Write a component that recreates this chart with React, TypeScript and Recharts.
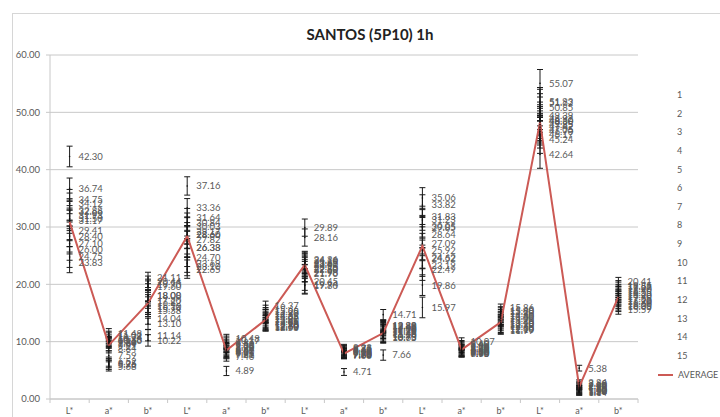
import React from "react";
import { ComposedChart, Line, XAxis, YAxis, CartesianGrid, ErrorBar, LabelList } from "recharts";

const categories = ["L*", "a*", "b*", "L*", "a*", "b*", "L*", "a*", "b*", "L*", "a*", "b*", "L*", "a*", "b*"];
const seriesNames = ["1", "2", "3", "4", "5", "6", "7", "8", "9", "10", "11", "12", "13", "14", "15"];
const yTicks = [0, 10, 20, 30, 40, 50, 60];

// one array per category position, one value per series (1..15)
const lStar1 = [42.3, 36.74, 34.75, 34.12, 32.88, 32.66, 31.93, 31.5, 31.17, 29.41, 28.4, 27.1, 26.0, 24.75, 23.83];
const aStar1 = [11.48, 11.02, 10.74, 10.38, 10.1, 9.96, 9.8, 9.64, 9.21, 8.84, 7.59, 6.52, 6.25, 5.96, 5.68];
const bStar1 = [21.11, 20.44, 19.9, 19.6, 18.08, 18.0, 17.2, 16.82, 16.1, 15.74, 15.38, 14.04, 13.1, 11.14, 10.22];
const lStar2 = [37.16, 33.36, 31.64, 30.84, 30.03, 29.17, 28.66, 28.6, 27.82, 26.38, 26.33, 24.7, 23.69, 22.65, 23.1];
const aStar2 = [10.48, 10.17, 9.86, 9.52, 9.3, 9.05, 8.9, 8.64, 8.42, 8.2, 8.01, 7.95, 7.81, 7.4, 4.89];
const bStar2 = [16.37, 15.66, 15.25, 14.9, 14.62, 14.35, 14.02, 13.8, 13.45, 13.2, 12.98, 12.8, 12.7, 12.6, 12.53];
const lStar3 = [29.89, 28.16, 24.26, 24.1, 23.85, 23.62, 23.4, 23.15, 22.8, 22.5, 21.98, 21.9, 20.45, 19.94, 19.8];
const aStar3 = [8.93, 8.75, 8.6, 8.42, 8.3, 8.21, 8.1, 7.98, 7.9, 7.82, 7.75, 7.7, 7.66, 7.6, 4.71];
const bStar3 = [14.71, 12.88, 12.8, 12.62, 12.45, 12.3, 12.1, 11.95, 11.7, 11.45, 11.2, 10.9, 10.75, 10.63, 7.66];
const lStar4 = [35.06, 33.82, 31.83, 31.23, 30.05, 29.85, 28.64, 27.09, 25.92, 24.62, 24.52, 23.19, 22.49, 19.86, 15.97];
const aStar4 = [10.07, 9.6, 9.4, 9.2, 9.0, 8.85, 8.7, 8.6, 8.45, 8.3, 8.2, 8.1, 8.0, 7.95, 7.9];
const bStar4 = [15.86, 15.4, 15.2, 14.9, 14.6, 14.3, 14.0, 13.7, 13.4, 13.1, 12.9, 12.6, 12.3, 12.1, 11.99];
const lStar5 = [55.07, 51.93, 51.62, 50.85, 49.39, 48.92, 48.6, 48.3, 47.85, 47.42, 47.05, 46.7, 46.17, 45.24, 42.64];
const aStar5 = [5.38, 2.84, 2.6, 2.4, 2.25, 2.1, 1.95, 1.85, 1.7, 1.6, 1.5, 1.42, 1.3, 1.2, 1.14];
const bStar5 = [20.41, 19.85, 19.59, 19.2, 18.9, 18.55, 18.2, 17.9, 17.55, 17.2, 16.9, 16.6, 16.3, 16.05, 15.59];

const average = [30.9, 9.4, 16.7, 28.4, 8.5, 13.8, 23.4, 7.9, 11.5, 26.7, 8.6, 13.4, 48.3, 2.1, 17.8];
const errors = [1.8, 0.8, 1.0, 1.6, 0.8, 0.7, 1.5, 0.6, 0.9, 1.8, 0.6, 0.7, 2.4, 0.5, 0.8];

const clusters = [lStar1, aStar1, bStar1, lStar2, aStar2, bStar2, lStar3, aStar3, bStar3, lStar4, aStar4, bStar4, lStar5, aStar5, bStar5];

const data = categories.map((cat, i) => {
  const row: Record<string, number | string> = { idx: i, cat, avg: average[i], err: errors[i] };
  clusters[i].forEach((v, j) => {
    row[`s${j}`] = v;
  });
  return row;
});

const FONT = "Lato, 'Open Sans', sans-serif";
const RED = "#cc5a55";
const GRID = "#c8c8c8";
const BAND_HALF = 588 / 15 / 2;

const XTick = (props: any) => {
  const { x, y, payload, index } = props;
  return (
    <g>
      <line x1={x - BAND_HALF} x2={x - BAND_HALF} y1={y - 8} y2={y - 4} stroke={GRID} />
      {index === categories.length - 1 && (
        <line x1={x + BAND_HALF} x2={x + BAND_HALF} y1={y - 8} y2={y - 4} stroke={GRID} />
      )}
      <text x={x} y={y + 7} textAnchor="middle" fontSize={9} fill="#595959" fontFamily={FONT}>
        {categories[payload.value]}
      </text>
    </g>
  );
};

export default function App() {
  return (
    <div style={{ position: "absolute", left: 0, top: 0, width: 720, height: 417, background: "#fff", overflow: "hidden" }}>
      <div style={{ position: "absolute", left: 12, top: 13, right: -2, bottom: -2, borderLeft: "1px solid #d6d6d6", borderTop: "1px solid #d6d6d6" }} />
      <div style={{ position: "absolute", left: 0, width: 740, top: 25, textAlign: "center", fontFamily: FONT, fontWeight: 700, fontSize: 15, color: "#222" }}>
        SANTOS (5P10) 1h
      </div>
      <div style={{ position: "absolute", left: 0, top: 0 }}>
        <ComposedChart width={720} height={417} data={data} margin={{ top: 55, right: 82, bottom: 0, left: 0 }}>
          <CartesianGrid vertical={false} stroke={GRID} />
          <XAxis
            dataKey="idx"
            type="category"
            scale="band"
            height={18}
            axisLine={{ stroke: GRID }}
            tickLine={false}
            tick={<XTick />}
            interval={0}
          />
          <YAxis
            domain={[0, 60]}
            ticks={yTicks}
            width={50}
            axisLine={{ stroke: GRID }}
            tickLine={{ stroke: GRID }}
            tickSize={4}
            tickMargin={6}
            tickFormatter={(v: number) => v.toFixed(2)}
            tick={{ fontSize: 9.5, fill: "#595959", fontFamily: FONT }}
          />
          {seriesNames.map((name, j) => (
            <Line
              key={name}
              dataKey={`s${j}`}
              name={name}
              stroke="none"
              dot={{ r: 0.8, fill: "#111", stroke: "none" }}
              activeDot={false}
              isAnimationActive={false}
            >
              <ErrorBar dataKey="err" width={3} stroke="#1a1a1a" strokeWidth={1} direction="y" />
              <LabelList
                dataKey={`s${j}`}
                position="right"
                offset={9}
                fontSize={9.5}
                fill="#5a5a5a"
                fontFamily={FONT}
                formatter={(v: any) => Number(v).toFixed(2)}
              />
            </Line>
          ))}
          <Line dataKey="avg" name="AVERAGE" stroke={RED} strokeWidth={2} dot={false} activeDot={false} isAnimationActive={false} />
        </ComposedChart>
      </div>
      <div style={{ position: "absolute", left: 658, top: 86, fontFamily: FONT, fontSize: 9, color: "#595959" }}>
        {seriesNames.map((n) => (
          <div key={n} style={{ height: 18.65, lineHeight: "18.65px", paddingLeft: 19 }}>
            {n}
          </div>
        ))}
        <div style={{ height: 18.65, display: "flex", alignItems: "center", whiteSpace: "nowrap" }}>
          <span style={{ display: "inline-block", width: 15, height: 2, background: RED, marginRight: 5 }} />
          AVERAGE
        </div>
      </div>
    </div>
  );
}
